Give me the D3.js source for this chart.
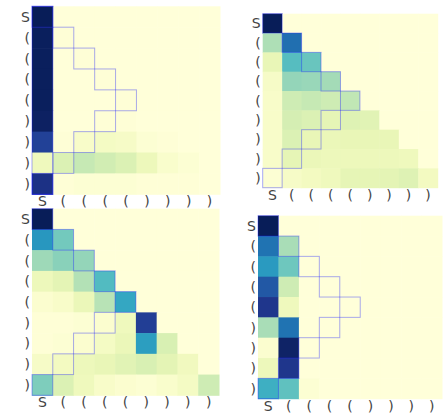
<!DOCTYPE html>
<html>
<head>
<meta charset="utf-8">
<script src="https://cdn.jsdelivr.net/npm/d3@7"></script>
<style>
  html, body { margin: 0; padding: 0; background: #ffffff; }
  svg { display: block; }
</style>
</head>
<body>
<svg id="chart" width="447" height="414"></svg>
<script>
// ---- data ----
const tokens = ["S", "(", "(", "(", "(", ")", ")", ")", ")"];

// attention weights, row i = query position (lower-triangular)
const attnA = [
  [1.00],
  [0.99, 0.01],
  [0.99, 0.00, 0.01],
  [0.99, 0.00, 0.00, 0.01],
  [0.99, 0.00, 0.00, 0.00, 0.01],
  [0.98, 0.00, 0.00, 0.01, 0.01, 0.00],
  [0.84, 0.01, 0.05, 0.07, 0.06, 0.02, 0.01],
  [0.10, 0.18, 0.24, 0.21, 0.18, 0.11, 0.04, 0.02],
  [0.90, 0.01, 0.02, 0.02, 0.02, 0.01, 0.01, 0.01, 0.00]
];
const attnB = [
  [1.00],
  [0.29, 0.71],
  [0.13, 0.46, 0.42],
  [0.06, 0.34, 0.33, 0.31],
  [0.05, 0.22, 0.24, 0.22, 0.25],
  [0.05, 0.20, 0.18, 0.14, 0.17, 0.16],
  [0.05, 0.18, 0.13, 0.12, 0.13, 0.13, 0.13],
  [0.05, 0.14, 0.12, 0.11, 0.11, 0.11, 0.11, 0.10],
  [0.02, 0.06, 0.08, 0.10, 0.14, 0.14, 0.15, 0.17, 0.08]
];
const attnC = [
  [1.00],
  [0.60, 0.40],
  [0.32, 0.36, 0.34],
  [0.11, 0.15, 0.28, 0.47],
  [0.03, 0.05, 0.12, 0.27, 0.55],
  [0.01, 0.01, 0.02, 0.03, 0.10, 0.85],
  [0.01, 0.02, 0.03, 0.07, 0.12, 0.58, 0.19],
  [0.06, 0.08, 0.11, 0.13, 0.16, 0.19, 0.15, 0.09],
  [0.38, 0.18, 0.10, 0.05, 0.03, 0.02, 0.04, 0.07, 0.22]
];
const attnD = [
  [1.00],
  [0.70, 0.30],
  [0.59, 0.41],
  [0.77, 0.22],
  [0.88, 0.10],
  [0.30, 0.70],
  [0.03, 0.97],
  [0.11, 0.88],
  [0.52, 0.44, 0.02]
];

// highlighted (target) cells: column index per row
const targetCols = [0, 1, 2, 3, 4, 3, 2, 1, 0];

// ---- layout ----
const panels = [
  { data: attnA, x: 32, y: 6.3, w: 188, h: 188, firstCol: true },
  { data: attnB, x: 262.7, y: 13.7, w: 175, h: 174, firstCol: false },
  { data: attnC, x: 32, y: 208.7, w: 187, h: 186.6, firstCol: false },
  { data: attnD, x: 258, y: 215.7, w: 184, h: 183, firstCol: false }
];

const color = d3.scaleSequential(d3.interpolateYlGnBu).domain([0, 1]);
const svg = d3.select("#chart");
const idx = d3.range(tokens.length);
const hlStroke = "rgba(30,30,255,0.38)";

panels.forEach(p => {
  const xs = d3.scaleBand().domain(idx).range([0, p.w]);
  const ys = d3.scaleBand().domain(idx).range([0, p.h]);
  const g = svg.append("g").attr("transform", `translate(${p.x},${p.y})`);

  const cells = [];
  idx.forEach(r => idx.forEach(c => {
    const v = (p.data[r] && p.data[r][c] !== undefined) ? p.data[r][c] : 0;
    cells.push({ r, c, v });
  }));

  g.selectAll("rect.cell").data(cells).join("rect")
    .attr("class", "cell")
    .attr("x", d => xs(d.c))
    .attr("y", d => ys(d.r))
    .attr("width", xs.bandwidth() + 0.5)
    .attr("height", ys.bandwidth() + 0.5)
    .attr("fill", d => color(d.v));

  const hl = idx.map(r => ({ r, c: targetCols[r] }));
  g.selectAll("rect.hl").data(hl).join("rect")
    .attr("class", "hl")
    .attr("x", d => xs(d.c))
    .attr("y", d => ys(d.r))
    .attr("width", xs.bandwidth())
    .attr("height", ys.bandwidth())
    .attr("fill", "none")
    .attr("stroke", hlStroke)
    .attr("stroke-width", 1);

  if (p.firstCol) {
    g.append("rect")
      .attr("x", xs(0))
      .attr("y", ys(0))
      .attr("width", xs.bandwidth())
      .attr("height", p.h)
      .attr("fill", "none")
      .attr("stroke", hlStroke)
      .attr("stroke-width", 1);
  }

  // y tick labels
  g.selectAll("text.yl").data(idx).join("text")
    .attr("class", "yl")
    .attr("x", -2)
    .attr("y", d => ys(d) + ys.bandwidth() / 2)
    .attr("dy", "0.36em")
    .attr("text-anchor", "end")
    .attr("font-family", "DejaVu Sans, sans-serif")
    .attr("font-size", 14)
    .attr("fill", "#444")
    .text(d => tokens[d]);

  // x tick labels
  g.selectAll("text.xl").data(idx).join("text")
    .attr("class", "xl")
    .attr("x", d => xs(d) + xs.bandwidth() / 2)
    .attr("y", p.h + 12)
    .attr("text-anchor", "middle")
    .attr("font-family", "DejaVu Sans, sans-serif")
    .attr("font-size", 14)
    .attr("fill", "#444")
    .text(d => tokens[d]);
});
</script>
</body>
</html>
